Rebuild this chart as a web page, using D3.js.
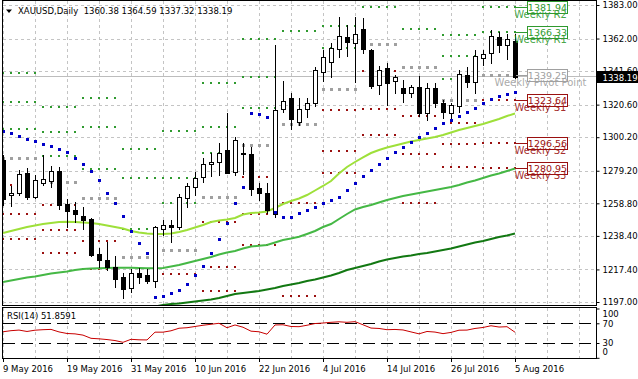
<!DOCTYPE html>
<html><head><meta charset="utf-8">
<script src="https://cdn.jsdelivr.net/npm/d3@7"></script>
<style>
html,body{margin:0;padding:0;background:#fff;}
svg{display:block;}
text{font-family:"DejaVu Sans",Verdana,sans-serif;}
</style></head><body>
<svg id="chart" width="638" height="379"></svg>
<script>
// ---------- DATA ----------
const symbol = "XAUUSD", period = "Daily";
const dates = ["2016-05-09","2016-05-10","2016-05-11","2016-05-12","2016-05-13","2016-05-16","2016-05-17","2016-05-18","2016-05-19","2016-05-20",
"2016-05-23","2016-05-24","2016-05-25","2016-05-26","2016-05-27","2016-05-30","2016-05-31","2016-06-01","2016-06-02","2016-06-03",
"2016-06-06","2016-06-07","2016-06-08","2016-06-09","2016-06-10","2016-06-13","2016-06-14","2016-06-15","2016-06-16","2016-06-17",
"2016-06-20","2016-06-21","2016-06-22","2016-06-23","2016-06-24","2016-06-27","2016-06-28","2016-06-29","2016-06-30","2016-07-01",
"2016-07-04","2016-07-05","2016-07-06","2016-07-07","2016-07-08","2016-07-11","2016-07-12","2016-07-13","2016-07-14","2016-07-15",
"2016-07-18","2016-07-19","2016-07-20","2016-07-21","2016-07-22","2016-07-25","2016-07-26","2016-07-27","2016-07-28","2016-07-29",
"2016-08-01","2016-08-02","2016-08-03","2016-08-04","2016-08-05"];
const opens = [1285.93,1263.82,1265.45,1277.60,1262.95,1271.53,1272.97,1279.04,1258.38,1254.62,
1250.86,1248.79,1227.06,1223.31,1219.11,1212.85,1205.58,1215.02,1213.91,1210.35,
1242.53,1245.22,1243.78,1261.95,1268.84,1275.47,1283.24,1284.87,1292.19,1278.60,
1289.69,1289.69,1268.21,1265.08,1252.11,1317.68,1324.57,1309.91,1317.68,1321.81,
1341.22,1347.49,1355.26,1363.15,1359.39,1367.78,1354.82,1332.90,1343.36,1335.60,
1331.02,1328.08,1331.46,1315.55,1330.83,1321.81,1315.17,1319.75,1339.16,1334.97,
1349.62,1353.13,1362.77,1357.95,1360.38];
const highs = [1289.06,1269.65,1279.67,1280.73,1276.54,1289.06,1282.17,1281.73,1261.32,1259.82,
1256.68,1249.42,1230.63,1234.76,1225.81,1215.35,1217.48,1218.11,1217.48,1244.60,
1248.36,1248.36,1264.64,1271.34,1278.60,1286.99,1290.13,1296.77,1315.17,1300.15,
1296.39,1294.26,1271.34,1271.34,1357.95,1335.60,1327.70,1324.57,1324.57,1344.36,
1354.81,1359.01,1375.30,1370.47,1375.30,1374.67,1355.26,1344.80,1346.87,1339.16,
1336.03,1332.90,1338.54,1333.96,1333.96,1323.51,1321.44,1342.29,1344.36,1354.82,
1354.82,1367.34,1366.28,1364.84,1364.59];
const lows = [1257.75,1257.12,1264.01,1261.32,1261.95,1270.28,1268.84,1255.05,1244.16,1247.29,
1242.53,1225.81,1219.11,1217.04,1206.59,1199.32,1203.45,1208.71,1208.71,1206.59,
1238.96,1234.76,1242.53,1256.68,1264.01,1272.34,1275.91,1276.54,1277.60,1276.54,
1277.16,1264.01,1260.88,1252.74,1249.92,1316.18,1305.16,1307.85,1312.67,1319.94,
1335.60,1338.10,1350.62,1351.06,1334.97,1352.75,1330.83,1327.26,1320.37,1327.70,
1322.44,1325.20,1313.49,1310.98,1319.31,1312.05,1312.05,1316.18,1331.46,1328.08,
1345.43,1346.87,1353.75,1349.00,1337.32];
const closes = [1261.51,1265.45,1276.98,1262.95,1273.40,1274.03,1279.04,1257.75,1254.18,1252.11,
1248.36,1226.44,1223.31,1219.11,1211.22,1204.95,1215.02,1212.47,1210.35,1243.78,
1245.22,1243.78,1262.57,1269.65,1274.47,1283.42,1284.87,1290.50,1277.98,1298.46,
1290.31,1267.77,1265.45,1254.62,1317.24,1323.07,1311.42,1317.87,1321.44,1342.29,
1350.62,1355.88,1363.59,1360.02,1364.84,1355.26,1332.27,1342.29,1334.34,1337.72,
1328.08,1331.46,1315.55,1330.83,1321.81,1316.18,1320.37,1339.79,1334.97,1351.06,
1352.31,1363.59,1357.95,1361.52,1338.19];
const maFast = [1240.21,1241.47,1242.72,1243.97,1244.91,1245.85,1246.48,1247.10,1247.29,1247.10,
1246.79,1246.48,1245.85,1244.91,1243.97,1243.03,1241.47,1240.53,1239.90,1239.59,
1239.59,1239.90,1240.84,1242.09,1243.66,1245.22,1247.10,1248.04,1248.67,1249.61,
1251.80,1252.74,1253.05,1253.68,1255.87,1258.37,1260.25,1261.82,1264.01,1266.83,
1269.65,1272.78,1277.48,1281.55,1284.68,1287.50,1290.31,1292.19,1293.76,1295.01,
1296.26,1297.52,1298.45,1299.39,1300.33,1301.59,1303.15,1304.72,1305.97,1307.22,
1308.47,1310.04,1311.61,1313.48,1315.05];
const maMid = [1209.53,1210.47,1211.41,1212.35,1212.97,1213.91,1214.85,1215.48,1216.10,1217.04,
1217.67,1217.98,1218.11,1218.29,1218.42,1218.48,1218.42,1218.29,1218.17,1218.11,
1218.29,1219.23,1220.17,1221.43,1222.68,1223.93,1225.18,1226.75,1228.00,1228.94,
1230.51,1231.76,1232.20,1232.70,1234.26,1235.83,1236.77,1237.83,1239.59,1241.47,
1243.97,1245.85,1248.98,1252.11,1254.93,1256.50,1257.75,1259.31,1260.88,1262.13,
1263.38,1264.32,1265.26,1266.20,1267.14,1268.08,1269.02,1270.27,1271.84,1273.09,
1274.66,1276.22,1277.48,1279.04,1280.61];
const maSlow = [null,null,null,null,null,null,null,null,null,null,
null,null,null,null,null,null,null,null,1193.24,1194.19,
1195.12,1195.75,1196.06,1196.69,1197.32,1197.94,1198.57,1199.51,1200.76,1202.01,
1202.64,1203.26,1203.89,1204.83,1205.77,1207.02,1207.96,1208.90,1210.15,1211.09,
1212.35,1213.60,1215.16,1217.04,1218.29,1219.55,1220.80,1222.37,1223.62,1224.56,
1225.50,1226.12,1227.06,1227.69,1228.63,1229.57,1230.51,1231.76,1233.01,1234.26,
1235.20,1236.46,1237.71,1238.65,1239.90];
const sar = [1304.09,1303.03,1300.96,1298.89,1297.83,1295.95,1294.70,1293.01,1290.94,1287.00,
1283.42,1279.23,1273.40,1265.45,1258.81,1250.67,1241.59,1234.14,1227.88,1200.32,
1200.76,1202.45,1204.52,1208.27,1213.60,1219.55,1227.88,1236.27,1246.66,1258.81,
1269.21,1315.55,1314.74,1312.67,1253.36,1250.05,1250.05,1252.93,1254.62,1256.31,
1259.00,1260.88,1262.76,1267.14,1271.53,1275.91,1279.67,1283.42,1287.00,1290.63,
1293.88,1297.33,1300.52,1303.15,1305.84,1309.23,1311.29,1313.48,1315.99,1318.49,
1321.63,1324.13,1325.70,1327.26,1328.51];
const rsi = [52.8,55,56.2,53.4,56,57,57.6,52.5,49.3,48.5,
46,39.5,38.5,37,35,31.4,37.5,36.5,36.2,52,
52,54.8,60,61,63.5,66,68,70,61,66.6,
62,54,52.8,47.9,66.6,67,63.5,63.1,66,69.5,
70.5,72,73,72,73.3,67,60.3,59.5,57,57.5,
56.5,52.5,48.6,53.4,52.2,49,51.5,56,56.2,59.5,
61.5,65,62.4,63.1,51.8591];
// weekly pivot levels (one value per week of 5 bars)
const weekStarts = [0,5,10,15,20,25,30,35,40,45,50,55,60];
const pivotR3 = [1340.60,1319.31,1324.76,1292.51,1304.09,1334.15,1361.71,null,null,null,null,1364.21,null];
const pivotR2 = [1322.44,1303.65,1306.72,1274.66,1274.47,1306.41,1338.10,null,1369.85,null,null,1351.37,1381.94];
const pivotR1 = [1305.34,1288.43,1279.98,1242.72,1259.19,1290.50,1318.49,1366.84,1355.94,1381.75,1368.28,1336.53,1366.33];
const pivotPP = [1286.99,1272.34,1262.13,1224.87,1229.38,1262.57,1295.32,1308.47,1330.64,1358.39,1344.17,1323.75,1339.25];
const pivotS1 = [1270.27,1257.75,1235.39,null,1214.54,1247.10,1275.47,1259.00,1316.93,1341.48,1313.67,1309.10,1323.64];
const pivotS2 = [1252.11,1242.09,1217.36,null,null,1219.23,1252.30,1200.63,1291.57,1318.06,1289.94,1296.20,1296.56];
const pivotS3 = [1236.27,1227.50,null,null,null,1203.58,1232.45,null,1277.91,1301.59,1259.19,1281.42,1280.95];
const priceTicks = [1383.00,1362.00,1341.60,1320.60,1300.20,1279.20,1258.80,1238.40,1217.40,1197.00];
const rsiTicks = [100,70,30,0];
const rsiLevels = [70,30];
const dateTickIdx = [0,8,16,24,32,40,48,56,64];

// ---------- SCALES ----------
const svg = d3.select("#chart");
const N = closes.length;
const x = d3.scaleLinear().domain([0, N-1]).range([3, 515]);
const y = d3.scaleLinear().domain([1197, 1383]).range([302, 5]);
const yR = d3.scaleLinear().domain([0, 100]).range([357.8, 308.5]);
const px = i => Math.round(x(i));
const py = v => Math.round(y(v));
const FS = "8.5px";
const gridCol = "#c4c4c4";
const colR = "#2f9a2f", colPP = "#a0a0a0", colS = "#9a1010";

const defs = svg.append("defs");
defs.append("clipPath").attr("id","cm").append("rect").attr("x",3).attr("y",1).attr("width",593).attr("height",304);
defs.append("clipPath").attr("id","cr").append("rect").attr("x",3).attr("y",308).attr("width",593).attr("height",50);

// ---------- GRID ----------
const gridIdx = d3.range(0, 80, 4).filter(i => x(i) < 596);
const grid = svg.append("g").attr("stroke", gridCol).attr("stroke-dasharray","3,3").attr("shape-rendering","crispEdges");
gridIdx.forEach(i => {
  grid.append("line").attr("x1",px(i)+0.5).attr("x2",px(i)+0.5).attr("y1",1).attr("y2",305);
  grid.append("line").attr("x1",px(i)+0.5).attr("x2",px(i)+0.5).attr("y1",308).attr("y2",358);
});
priceTicks.forEach(v => {
  grid.append("line").attr("x1",3).attr("x2",596).attr("y1",py(v)+0.5).attr("y2",py(v)+0.5);
});

const main = svg.append("g").attr("clip-path","url(#cm)");

// current price line
main.append("line").attr("x1",3).attr("x2",596)
  .attr("y1",Math.floor(y(closes[N-1]))+0.5).attr("y2",Math.floor(y(closes[N-1]))+0.5)
  .attr("stroke","#bdbdbd").attr("stroke-width",1);

// ---------- PIVOT DOTS ----------
const levelSets = [
  {vals:pivotR3,col:colR,s:2},{vals:pivotR2,col:colR,s:2},{vals:pivotR1,col:colR,s:2},
  {vals:pivotPP,col:colPP,s:3},
  {vals:pivotS1,col:colS,s:2},{vals:pivotS2,col:colS,s:2},{vals:pivotS3,col:colS,s:2}];
const dots = main.append("g").attr("shape-rendering","crispEdges");
levelSets.forEach(ls => {
  ls.vals.forEach((v,w) => {
    if (v == null) return;
    for (let i = weekStarts[w]; i < weekStarts[w]+5 && i < N; i++) {
      dots.append("rect").attr("x",px(i)-Math.floor(ls.s/2)).attr("y",py(v)-Math.floor(ls.s/2))
        .attr("width",ls.s).attr("height",ls.s).attr("fill",ls.col);
    }
  });
});

// ---------- MOVING AVERAGES ----------
const line = d3.line().defined(d => d != null).x((d,i) => x(i)).y(d => y(d));
main.append("path").datum(maSlow).attr("d",line).attr("fill","none").attr("stroke","#127812").attr("stroke-width",2);
main.append("path").datum(maMid).attr("d",line).attr("fill","none").attr("stroke","#45b845").attr("stroke-width",2);
main.append("path").datum(maFast).attr("d",line).attr("fill","none").attr("stroke","#9ee03a").attr("stroke-width",2);

// ---------- CANDLES ----------
const cg = main.append("g").attr("shape-rendering","crispEdges");
closes.forEach((c,i) => {
  const o = opens[i], cx = px(i);
  cg.append("line").attr("x1",cx+0.5).attr("x2",cx+0.5).attr("y1",py(highs[i])).attr("y2",py(lows[i])+1)
    .attr("stroke","#000");
  const top = py(Math.max(o,c)), bot = py(Math.min(o,c));
  cg.append("rect").attr("x",cx-1.5).attr("y",top+0.5).attr("width",4).attr("height",Math.max(bot-top,0.01))
    .attr("fill", c < o ? "#000" : "#fff").attr("stroke","#000");
});

// ---------- PARABOLIC SAR ----------
main.append("g").selectAll("rect").data(sar).join("rect")
  .attr("x",(d,i)=>px(i)-1).attr("y",d=>py(d)-1).attr("width",3).attr("height",3).attr("fill","#0000c8");

// ---------- WEEKLY LEVEL LABELS ----------
const lastW = weekStarts.length-1;
const labelDefs = [
  {v:pivotR2[lastW],name:"Weekly R2",col:colR},
  {v:pivotR1[lastW],name:"Weekly R1",col:colR},
  {v:pivotPP[lastW],name:"Weekly Pivot Point",col:colPP},
  {v:pivotS1[lastW],name:"Weekly S1",col:colS},
  {v:pivotS2[lastW],name:"Weekly S2",col:colS},
  {v:pivotS3[lastW],name:"Weekly S3",col:colS}];
const lg = svg.append("g");
labelDefs.forEach(L => {
  if (L.v == null) return;
  const yy = py(L.v)+0.5;
  lg.append("line").attr("x1",px(N-1)+1).attr("x2",527).attr("y1",yy).attr("y2",yy).attr("stroke",L.col);
  lg.append("rect").attr("x",527.5).attr("y",yy-6).attr("width",40).attr("height",12)
    .attr("fill","#fff").attr("stroke",L.col);
  lg.append("text").attr("x",547.5).attr("y",yy+3.5).attr("text-anchor","middle")
    .attr("font-size","9.5px").attr("fill",L.col).text(d3.format(".2f")(L.v));
  lg.append("text").attr("x",540.5).attr("y",yy+10.5).attr("text-anchor","middle")
    .attr("font-size","10px").attr("fill",L.col).attr("fill-opacity",0.9).text(L.name);
});

// ---------- PANEL FRAMES ----------
svg.append("rect").attr("x",2.5).attr("y",0.5).attr("width",594).attr("height",305)
  .attr("fill","none").attr("stroke","#000");
svg.append("rect").attr("x",2.5).attr("y",307.5).attr("width",594).attr("height",51)
  .attr("fill","none").attr("stroke","#000");

// ---------- PRICE AXIS ----------
const ya = svg.append("g").attr("transform","translate(596.5,0)")
  .call(d3.axisRight(y).tickValues(priceTicks).tickSize(3).tickPadding(3).tickFormat(d3.format(".2f")));
ya.select(".domain").remove();
ya.selectAll("text").attr("font-size",FS).attr("font-family","DejaVu Sans").attr("fill","#000");
ya.selectAll("line").attr("stroke","#000");

// current price box
const cy = y(closes[N-1]);
svg.append("rect").attr("x",597).attr("y",Math.round(cy)-6).attr("width",41).attr("height",12).attr("fill","#000");
svg.append("text").attr("x",602.5).attr("y",Math.round(cy)+3.5).attr("font-size",FS).attr("fill","#fff")
  .text(d3.format(".2f")(closes[N-1]));

// ---------- TITLE ----------
svg.append("path").attr("d","M6,9.5 L12,9.5 L9,13 Z").attr("fill","#000");
const f2 = d3.format(".2f");
svg.append("text").attr("x",18).attr("y",14).attr("font-size",FS).attr("fill","#000")
  .style("white-space","pre")
  .text(`${symbol},${period}  ${f2(opens[N-1])} ${f2(highs[N-1])} ${f2(lows[N-1])} ${f2(closes[N-1])}`);

// ---------- RSI PANEL ----------
const rg = svg.append("g").attr("clip-path","url(#cr)");
rsiLevels.forEach(l => {
  rg.append("line").attr("x1",3).attr("x2",596).attr("y1",Math.round(yR(l))+0.5).attr("y2",Math.round(yR(l))+0.5)
    .attr("stroke","#000").attr("stroke-dasharray","12,6").attr("shape-rendering","crispEdges");
});
const rline = d3.line().x((d,i)=>x(i)).y(d=>yR(d));
rg.append("path").datum(rsi).attr("d",rline).attr("fill","none").attr("stroke","#c80000").attr("stroke-width",1);
svg.append("text").attr("x",7).attr("y",319).attr("font-size",FS).attr("fill","#000")
  .text(`RSI(14) ${d3.format(".4f")(rsi[N-1])}`);
const ra = svg.append("g").attr("transform","translate(596.5,0)")
  .call(d3.axisRight(yR).tickValues(rsiTicks).tickSize(3).tickPadding(3).tickFormat(d3.format("d")));
ra.select(".domain").remove();
ra.selectAll("text").attr("font-size",FS).attr("font-family","DejaVu Sans").attr("fill","#000")
  .attr("dy", d => d === 100 ? "0.95em" : d === 0 ? "-0.35em" : "0.32em");
ra.selectAll("line").attr("stroke","#000");

// ---------- DATE AXIS ----------
const fmt = d3.timeFormat("%-d %b %Y"), parse = d3.timeParse("%Y-%m-%d");
dateTickIdx.forEach(i => {
  svg.append("line").attr("x1",px(i)+0.5).attr("x2",px(i)+0.5).attr("y1",358).attr("y2",362).attr("stroke","#000");
  svg.append("text").attr("x",px(i)).attr("y",372).attr("font-size",FS).attr("fill","#000").text(fmt(parse(dates[i])));
});
</script>
</body></html>
